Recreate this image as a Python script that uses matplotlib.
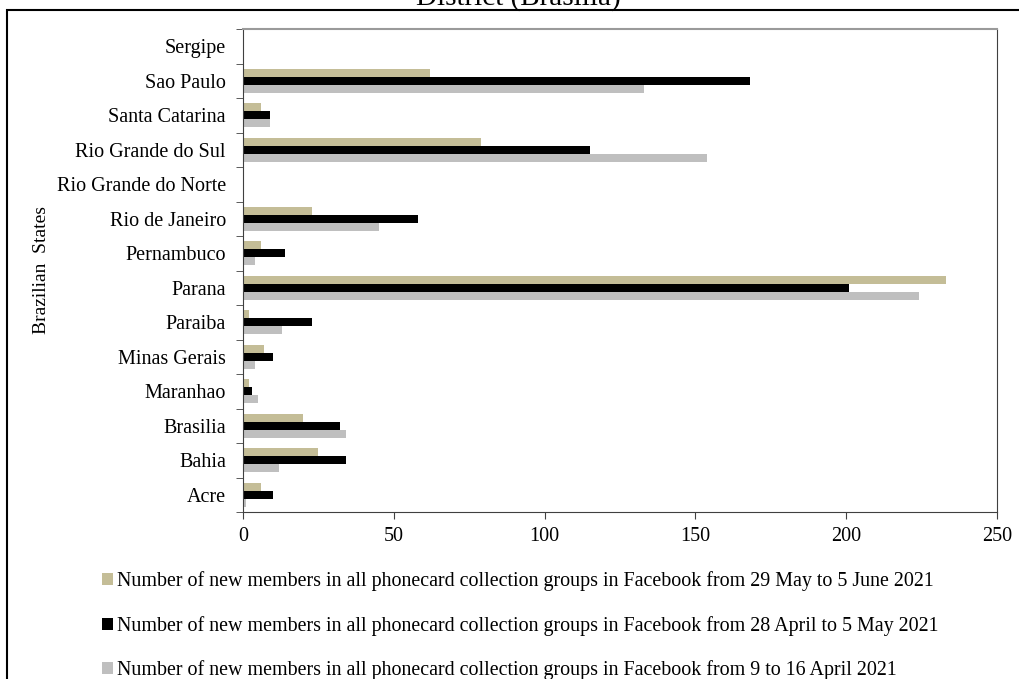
import numpy as np
import matplotlib
matplotlib.use("Agg")
import matplotlib.pyplot as plt
from matplotlib.patches import Rectangle, Patch

plt.rcParams['font.family'] = ['Liberation Serif', 'DejaVu Serif']

states = ['Acre', 'Bahia', 'Brasilia', 'Maranhao', 'Minas Gerais', 'Paraiba',
          'Parana', 'Pernambuco', 'Rio de Janeiro', 'Rio Grande do Norte',
          'Rio Grande do Sul', 'Santa Catarina', 'Sao Paulo', 'Sergipe']

may_june = [6, 25, 20, 2, 7, 2, 233, 6, 23, 0, 79, 6, 62, 0]
april_may = [10, 34, 32, 3, 10, 23, 201, 14, 58, 0, 115, 9, 168, 0]
april_9_16 = [1, 12, 34, 5, 4, 13, 224, 4, 45, 0, 154, 9, 133, 0]

labels = ['Number of new members in all phonecard collection groups in Facebook from 29 May to 5 June 2021',
          'Number of new members in all phonecard collection groups in Facebook from 28 April to 5 May 2021',
          'Number of new members in all phonecard collection groups in Facebook from 9 to 16 April 2021']
colors = ['#C4BD97', '#000000', '#BFBFBF']

fig = plt.figure(figsize=(10.19, 6.79), dpi=100)
ax = fig.add_axes([243/1019, 1 - 512/679, (997-243)/1019, (512-29)/679])

y = np.arange(len(states))
h = 0.23
ax.barh(y + h, may_june, height=h, color=colors[0])
ax.barh(y, april_may, height=h, color=colors[1])
ax.barh(y - h, april_9_16, height=h, color=colors[2])

ax.set_xlim(0, 250)
ax.set_ylim(-0.5, len(states) - 0.5)
ax.set_xticks([0, 50, 100, 150, 200, 250])
ax.set_yticks(y)
ax.set_yticklabels(states)
ax.set_yticks(np.arange(-0.5, len(states), 1), minor=True)
ax.tick_params(axis='y', which='major', length=0, pad=12.3, labelsize=14.5)
ax.tick_params(axis='y', which='minor', length=5, direction='out', color='#404040')
ax.tick_params(axis='x', length=5, direction='out', color='#404040', labelsize=14.5, pad=6)

for s in ['left', 'bottom', 'right']:
    ax.spines[s].set_color('#404040')
ax.spines['top'].set_color('#9a9a9a')
ax.spines['top'].set_linewidth(1.5)

fig.text(41/1019, 1 - 270/679, 'Brazilian  States', rotation=90,
         ha='center', va='center', fontsize=14)

# title, mostly cut off at the top of the picture
fig.text(518/1019, 1 - 4.5/679, 'District (Brasilia)', ha='center', va='baseline', fontsize=21)

# outer frame
fig.patches.append(Rectangle((7/1019, -0.1), 1.1, 1 - 10.5/679 + 0.1, transform=fig.transFigure,
                             fill=False, edgecolor='black', linewidth=1.5))

handles = [Patch(facecolor=c, edgecolor='none') for c in colors]
fig.legend(handles, labels, loc='upper left', bbox_to_anchor=(102/1019, 1 - 571/679),
           frameon=False, fontsize=14.4, handlelength=0.55, handleheight=0.55,
           handletextpad=0.2, labelspacing=1.24, borderpad=0, borderaxespad=0)

fig.savefig('out.png', dpi=100)
